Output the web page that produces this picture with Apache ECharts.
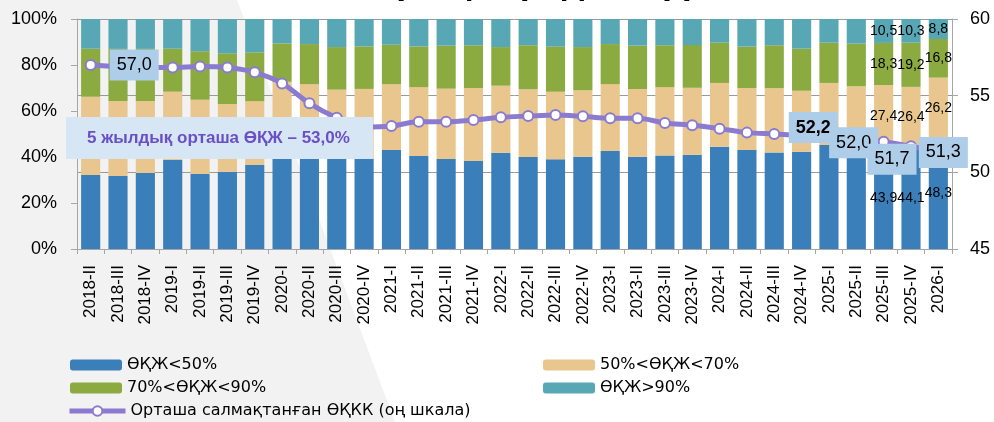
<!DOCTYPE html>
<html>
<head>
<meta charset="utf-8">
<script src="https://cdn.jsdelivr.net/npm/echarts@6/dist/echarts.min.js"></script>
<style>
  html, body { margin: 0; padding: 0; background: #ffffff; }
  #wrap { position: relative; width: 994px; height: 422px; overflow: hidden; }
  #bg { position: absolute; left: 0; top: 0; width: 994px; height: 422px; background: #f2f2f2;
        clip-path: polygon(0 0, 237px 0, 395px 422px, 0 422px); }
  #chart { position: absolute; left: 0; top: 0; width: 994px; height: 422px; }
</style>
</head>
<body>
<div id="wrap"><div id="bg"></div><div id="chart"></div></div>
<script>
const categories = ['2018-II','2018-III','2018-IV',
  '2019-I','2019-II','2019-III','2019-IV',
  '2020-I','2020-II','2020-III','2020-IV',
  '2021-I','2021-II','2021-III','2021-IV',
  '2022-I','2022-II','2022-III','2022-IV',
  '2023-I','2023-II','2023-III','2023-IV',
  '2024-I','2024-II','2024-III','2024-IV',
  '2025-I','2025-II','2025-III','2025-IV',
  '2026-I'];

const seriesNames = ['ӨҚЖ<50%', '50%<ӨҚЖ<70%', '70%<ӨҚЖ<90%', 'ӨҚЖ>90%', 'Орташа салмақтанған ӨҚКК (оң шкала)'];

const below50 = [32.2,31.7,33.0,38.7,32.6,33.6,36.5,39.8,39.5,39.3,39.4,43.0,40.4,39.1,38.3,41.9,
                 40.0,39.0,40.1,42.6,40.1,40.7,41.0,44.5,43.0,42.0,42.3,45.2,44.0,43.9,44.1,48.3];
const from50to70 = [34.0,32.6,31.3,29.7,32.3,29.4,27.8,32.9,32.2,30.0,30.2,28.7,30.0,30.6,31.7,29.1,
                 29.4,29.4,28.9,29.1,29.5,29.7,29.1,27.7,27.0,27.9,26.5,27.0,26.7,27.4,26.4,26.2];
const from70to90 = [20.9,22.7,22.7,18.7,21.1,22.1,21.2,16.7,17.4,18.5,18.5,17.1,17.7,18.7,18.6,16.8,
                 19.2,19.6,18.8,17.4,18.8,18.2,18.6,17.5,18.0,18.7,18.3,17.5,18.6,18.3,19.2,16.8];
const above90 = [12.9,13.0,13.0,12.9,14.0,14.9,14.5,10.6,10.9,12.2,11.9,11.2,11.9,11.6,11.4,12.2,
                 11.4,12.0,12.2,10.9,11.6,11.4,11.3,10.3,12.0,11.4,12.9,10.3,10.7,10.5,10.3,8.8];
const avgRatio = [57.0,56.9,56.85,56.83,56.9,56.83,56.52,55.8,54.5,53.56,52.95,53.02,53.3,53.3,53.41,53.59,
                 53.67,53.74,53.65,53.52,53.52,53.22,53.07,52.85,52.59,52.5,52.4,52.3,52.2,52.0,51.7,51.3];

const leftTicks = [0, 20, 40, 60, 80, 100];
const rightTicks = [45, 50, 55, 60];
const annotationText = '5 жылдық орташа ӨҚЖ – 53,0%';
const titleText = '(жаңа кредиттер)';

const FONT = '"Liberation Sans", Arial, sans-serif';
const LEGEND_FONT = '"DejaVu Sans", "Liberation Sans", sans-serif';
const fmt = v => (Math.round(v * 10) / 10).toFixed(1).replace('.', ',');

const barLabelIdx = [29, 30, 31];
function barData(arr) {
  return arr.map((v, i) => barLabelIdx.includes(i)
    ? { value: v, label: { show: true } } : v);
}

const lineLabels = {
  0:  { position: 'right', distance: 13 },
  28: { position: 'inside', offset: [-43, -11], fontWeight: 'bold' },
  29: { position: 'inside', offset: [-30, 1] },
  30: { position: 'inside', offset: [-19, 13] },
  31: { position: 'inside', offset: [5, 0] }
};
const lineData = avgRatio.map((v, i) => lineLabels[i]
  ? { value: v, label: Object.assign({ show: true }, lineLabels[i]) } : v);

const colors = ['#3a7fba', '#e8c68e', '#8baa3f', '#58a7b5', '#8a7bd0'];

const barBase = {
  type: 'bar', stack: 'total', barWidth: '70%', yAxisIndex: 0,
  label: { show: false, position: 'inside', color: '#000', fontSize: 14, fontFamily: FONT,
           formatter: p => fmt(p.value) },
  emphasis: { disabled: true }
};

const legendText = { fontSize: 16, color: '#000', fontFamily: LEGEND_FONT };
function oneLegend(name, left, top, extra) {
  return Object.assign({ data: [name], orient: 'horizontal', left: left, top: top,
           itemWidth: 52, itemHeight: 11, padding: 0, textStyle: legendText }, extra || {});
}

const chart = echarts.init(document.getElementById('chart'), null, { renderer: 'canvas' });
chart.setOption({
  animation: false,
  backgroundColor: 'transparent',
  color: colors,
  textStyle: { fontFamily: FONT },
  grid: { left: 77, right: 42, top: 19, bottom: 173, containLabel: false },
  legend: [
    oneLegend(seriesNames[0], 70, 357),
    oneLegend(seriesNames[1], 543, 357),
    oneLegend(seriesNames[2], 70, 380),
    oneLegend(seriesNames[3], 543, 380),
    oneLegend(seriesNames[4], 67, 403, { itemWidth: 56, itemHeight: 12,
      lineStyle: { width: 5, color: colors[4] },
      itemStyle: { color: '#ffffff', borderColor: colors[4], borderWidth: 2 } })
  ],
  xAxis: {
    type: 'category', data: categories,
    axisLine: { lineStyle: { color: '#a6a6a6', width: 1 } },
    axisTick: { show: true, length: 5, lineStyle: { color: '#a6a6a6' } },
    axisLabel: { rotate: 90, interval: 0, fontSize: 17, color: '#000', margin: 16, fontFamily: FONT }
  },
  yAxis: [
    { type: 'value', min: leftTicks[0], max: leftTicks[leftTicks.length - 1], interval: 20,
      axisLine: { show: true, lineStyle: { color: '#a6a6a6' } },
      axisTick: { show: true, length: 6, lineStyle: { color: '#a6a6a6' } },
      axisLabel: { formatter: '{value}%', fontSize: 18, color: '#000', margin: 20, fontFamily: FONT },
      splitLine: { show: false } },
    { type: 'value', position: 'right', min: rightTicks[0], max: rightTicks[rightTicks.length - 1], interval: 5,
      axisLine: { show: true, lineStyle: { color: '#a6a6a6' } },
      axisTick: { show: true, length: 6, lineStyle: { color: '#a6a6a6' } },
      axisLabel: { fontSize: 18, color: '#000', margin: 18, fontFamily: FONT },
      splitLine: { show: true, lineStyle: { color: '#9a9a9a', width: 1 } } }
  ],
  series: [
    Object.assign({}, barBase, { name: seriesNames[0], data: barData(below50) }),
    Object.assign({}, barBase, { name: seriesNames[1], data: barData(from50to70) }),
    Object.assign({}, barBase, { name: seriesNames[2], data: barData(from70to90) }),
    Object.assign({}, barBase, { name: seriesNames[3], data: barData(above90) }),
    { name: seriesNames[4], type: 'line', yAxisIndex: 1, z: 5, data: lineData,
      smooth: 0.35, symbol: 'circle', symbolSize: 10,
      lineStyle: { color: colors[4], width: 5 },
      itemStyle: { color: '#ffffff', borderColor: colors[4], borderWidth: 2 },
      label: { show: false, color: '#000', fontSize: 18, fontFamily: FONT,
               backgroundColor: '#aecde8', padding: [6, 7], lineHeight: 19,
               formatter: p => fmt(p.value) },
      emphasis: { disabled: true } }
  ],
  graphic: [
    { type: 'text', z: 1, left: 392, top: -35, silent: true,
      style: { text: titleText, fill: '#000', font: 'bold 36px ' + FONT } },
    { type: 'rect', z: 100, silent: true,
      shape: { x: 66, y: 117, width: 307, height: 42 }, style: { fill: '#d6e6f4' } },
    { type: 'text', z: 101, silent: true, x: 87, y: 138.5,
      style: { text: annotationText, fill: '#6a50c4', font: 'bold 17px ' + FONT,
               align: 'left', verticalAlign: 'middle' } }
  ]
});
</script>
</body>
</html>
